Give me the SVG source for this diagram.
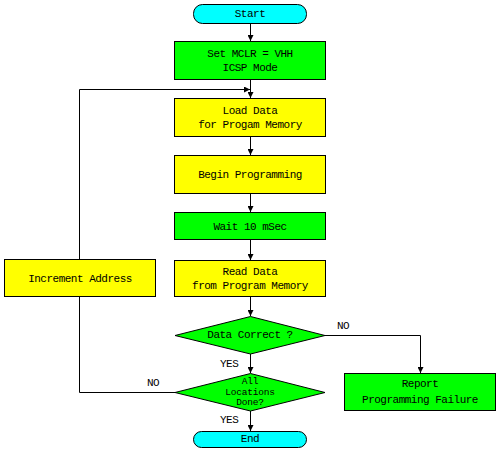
<svg xmlns="http://www.w3.org/2000/svg" width="499" height="452" viewBox="0 0 499 452">
<style>
.t{font-family:"Liberation Mono","DejaVu Sans Mono",monospace;font-size:11px;letter-spacing:-0.5px;fill:#000;text-anchor:middle}
.s{font-size:9.5px;letter-spacing:-0.2px}
.l{font-family:"Liberation Mono","DejaVu Sans Mono",monospace;font-size:11px;letter-spacing:-0.5px;fill:#000}
.y{fill:#ffff00;stroke:#000;stroke-width:1}
.g{fill:#00ff00;stroke:#000;stroke-width:1}
.c{fill:#00ffff;stroke:#000;stroke-width:1}
.e{fill:none;stroke:#000;stroke-width:1}
</style>
<defs>
<marker id="a" viewBox="0 0 6 6" refX="6" refY="3" markerWidth="6" markerHeight="6" orient="auto" markerUnits="userSpaceOnUse">
<path d="M0,0 L6,3 L0,6 z" fill="#000"/>
</marker>
</defs>
<rect width="499" height="452" fill="#fff"/>
<g id="connectors">
<path class="e" d="M250.5,23 V41" marker-end="url(#a)"/>
<path class="e" d="M250.5,80 V98" marker-end="url(#a)"/>
<path class="e" d="M175,392.5 H79.5 V296"/>
<path class="e" d="M79.5,259 V89.5 H250" marker-end="url(#a)"/>
<path class="e" d="M250.5,137 V155" marker-end="url(#a)"/>
<path class="e" d="M250.5,194 V212" marker-end="url(#a)"/>
<path class="e" d="M250.5,240 V260" marker-end="url(#a)"/>
<path class="e" d="M250.5,297 V316" marker-end="url(#a)"/>
<path class="e" d="M250.5,354 V373" marker-end="url(#a)"/>
<path class="e" d="M250.5,411 V431" marker-end="url(#a)"/>
<path class="e" d="M325,335.5 H420.5 V373" marker-end="url(#a)"/>
<text class="l" x="337" y="329">NO</text>
<text class="l" x="147" y="386">NO</text>
<text class="l" x="220" y="367">YES</text>
<text class="l" x="220" y="423">YES</text>
</g>
<g id="start">
<rect class="c" x="193.5" y="4.5" width="113" height="19" rx="9"/>
<text class="t" x="250" y="17">Start</text>
</g>
<g id="set-mclr">
<rect class="g" x="174.5" y="41.5" width="151" height="38"/>
<text class="t" x="250" y="57">Set MCLR = VHH</text>
<text class="t" x="250" y="71">ICSP Mode</text>
</g>
<g id="load-data">
<rect class="y" x="174.5" y="98.5" width="151" height="38"/>
<text class="t" x="250" y="114">Load Data</text>
<text class="t" x="250" y="128">for Progam Memory</text>
</g>
<g id="begin-programming">
<rect class="y" x="174.5" y="155.5" width="151" height="38"/>
<text class="t" x="250" y="178">Begin Programming</text>
</g>
<g id="wait">
<rect class="g" x="174.5" y="212.5" width="151" height="27"/>
<text class="t" x="250" y="230">Wait 10 mSec</text>
</g>
<g id="read-data">
<rect class="y" x="174.5" y="260.5" width="151" height="36"/>
<text class="t" x="250" y="275">Read Data</text>
<text class="t" x="250" y="289">from Program Memory</text>
</g>
<g id="data-correct">
<polygon class="g" points="250.5,316.5 325,335.5 250.5,354 175,335.5"/>
<text class="t" x="250" y="338">Data Correct ?</text>
</g>
<g id="all-locations">
<polygon class="g" points="250.5,373.5 325,392.5 250.5,411 175,392.5"/>
<text class="t s" x="250" y="384">All</text>
<text class="t s" x="250" y="394.5">Locations</text>
<text class="t s" x="250" y="405">Done?</text>
</g>
<g id="end">
<rect class="c" x="193.5" y="431.5" width="113" height="16" rx="8"/>
<text class="t" x="250" y="442">End</text>
</g>
<g id="report">
<rect class="g" x="344.5" y="373.5" width="151" height="37"/>
<text class="t" x="420" y="387">Report</text>
<text class="t" x="420" y="403">Programming Failure</text>
</g>
<g id="increment-address">
<rect class="y" x="4.5" y="259.5" width="151" height="37"/>
<text class="t" x="80" y="282">Increment Address</text>
</g>
</svg>
